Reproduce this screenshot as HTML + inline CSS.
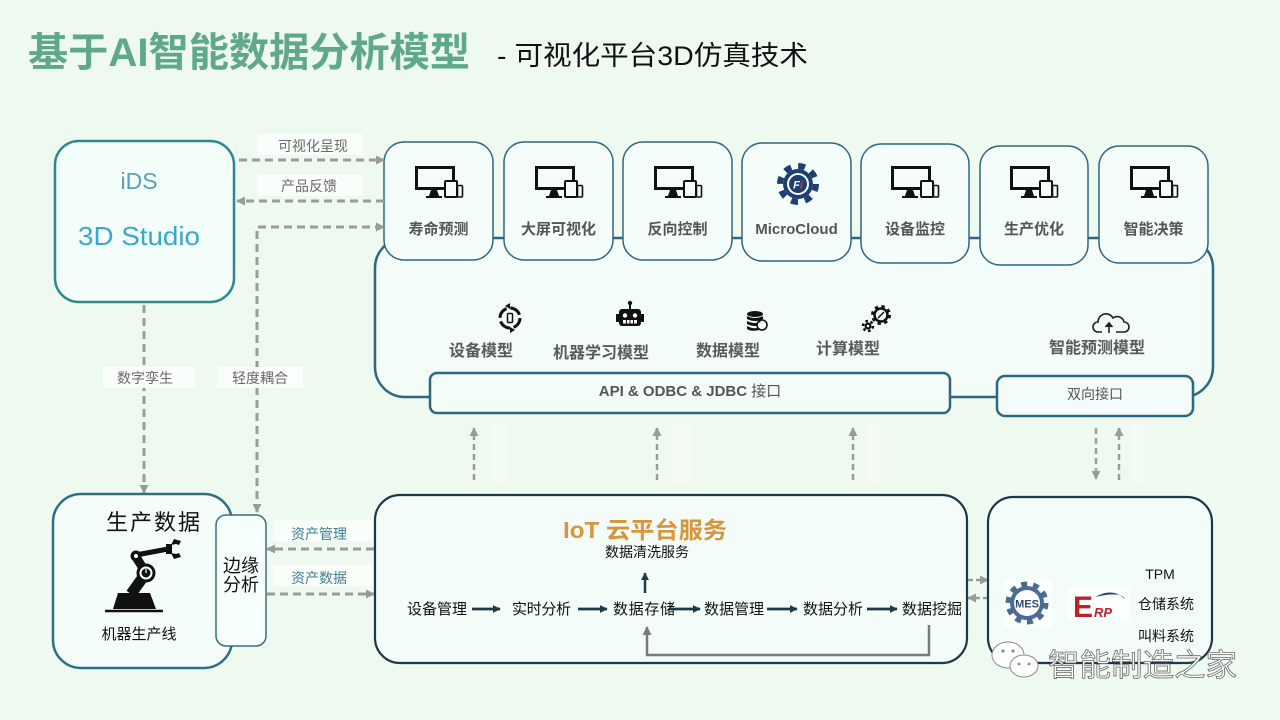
<!DOCTYPE html>
<html><head><meta charset="utf-8"><style>
html,body{margin:0;padding:0;background:#eef9f0;}
svg{display:block;}
text{font-family:"Liberation Sans","Noto Sans CJK SC",sans-serif;}
</style></head><body>
<svg width="1280" height="720" viewBox="0 0 1280 720" xmlns="http://www.w3.org/2000/svg">
<defs>
<marker id="ga" viewBox="0 0 10 10" refX="9" refY="5" markerWidth="9" markerHeight="9" markerUnits="userSpaceOnUse" orient="auto-start-reverse"><path d="M0,0 L10,5 L0,10 z" fill="#9a9a9a"/></marker>
<marker id="na" viewBox="0 0 10 10" refX="9" refY="5" markerWidth="8" markerHeight="8" markerUnits="userSpaceOnUse" orient="auto"><path d="M0,0 L10,5 L0,10 z" fill="#1e3a4a"/></marker>
<marker id="da" viewBox="0 0 10 10" refX="9" refY="5" markerWidth="9" markerHeight="9" markerUnits="userSpaceOnUse" orient="auto"><path d="M0,0 L10,5 L0,10 z" fill="#7a7a7a"/></marker>
<g id="mon">
<rect x="1.5" y="1.5" width="37" height="21" fill="none" stroke="#111" stroke-width="3"/>
<path d="M16,24 L22,24 L24,30 L14,30 z" fill="#111"/>
<line x1="11" y1="31" x2="27" y2="31" stroke="#111" stroke-width="2"/>
<rect x="30" y="15" width="12" height="16" rx="1" fill="#f5fdfa" stroke="#111" stroke-width="2"/>
<rect x="42.5" y="19.5" width="5" height="11.5" rx="1" fill="#f5fdfa" stroke="#111" stroke-width="1.6"/>
</g>
</defs>

<!-- Title -->
<text x="28" y="66" font-size="40" font-weight="bold" fill="#5fa98a" textLength="442" lengthAdjust="spacingAndGlyphs">基于AI智能数据分析模型</text>
<text x="497" y="65" font-size="27" fill="#111" textLength="311" lengthAdjust="spacingAndGlyphs">- 可视化平台3D仿真技术</text>

<!-- iDS box -->
<rect x="55" y="141" width="179" height="161" rx="24" fill="#f3fdf9" stroke="#2e8891" stroke-width="2.5"/>
<text x="139" y="189" font-size="23" fill="#5c9fbb" text-anchor="middle">iDS</text>
<text x="139" y="245" font-size="26" fill="#37a9cf" text-anchor="middle" textLength="122" lengthAdjust="spacingAndGlyphs">3D Studio</text>

<!-- big top box -->
<rect x="375" y="238" width="838" height="159" rx="30" fill="#f3fcf8" stroke="#2f6680" stroke-width="2.5"/>

<!-- cards -->
<g fill="#f5fdfa" stroke="#2f6680" stroke-width="1.5">
<rect x="384" y="142" width="109" height="118" rx="20"/>
<rect x="504" y="142" width="109" height="118" rx="20"/>
<rect x="623" y="142" width="109" height="118" rx="20"/>
<rect x="742" y="143" width="109" height="118" rx="20"/>
<rect x="861" y="144" width="108" height="119" rx="20"/>
<rect x="980" y="146" width="108" height="119" rx="20"/>
<rect x="1099" y="146" width="109" height="117" rx="20"/>
</g>
<use href="#mon" x="415" y="166"/>
<use href="#mon" x="535" y="166"/>
<use href="#mon" x="654" y="166"/>
<use href="#mon" x="891" y="166"/>
<use href="#mon" x="1010" y="166"/>
<use href="#mon" x="1130" y="166"/>
<!-- MicroCloud gear -->
<g>
<circle cx="798" cy="184" r="15" fill="#1d3f73"/>
<circle cx="798" cy="184" r="18" fill="none" stroke="#1d3f73" stroke-width="6" stroke-dasharray="7 7.14"/>
<circle cx="798" cy="184" r="11" fill="#fff"/>
<circle cx="798" cy="184" r="9" fill="#1d3f73"/>
<text x="798" y="188.5" font-size="11" font-weight="bold" font-style="italic" fill="#fff" text-anchor="middle">F<tspan fill="#e03030">i</tspan></text>
</g>
<g font-size="15" font-weight="bold" fill="#555" text-anchor="middle">
<text x="438.5" y="234">寿命预测</text>
<text x="558.5" y="234">大屏可视化</text>
<text x="677.5" y="234">反向控制</text>
<text x="796.5" y="234">MicroCloud</text>
<text x="915" y="234">设备监控</text>
<text x="1034" y="234">生产优化</text>
<text x="1153.5" y="234">智能决策</text>
</g>

<!-- middle icons -->
<g>
<circle cx="510" cy="318" r="10" fill="none" stroke="#111" stroke-width="3" stroke-dasharray="12 3.7"/>
<path d="M505,306 l5,-3 l0,6 z M515,330 l-5,3 l0,-6 z" fill="#111"/>
<rect x="507.5" y="313.5" width="5" height="9" rx="1" fill="none" stroke="#111" stroke-width="1.5"/>
</g>
<g>
<line x1="630" y1="304" x2="630" y2="310" stroke="#111" stroke-width="2"/>
<circle cx="630" cy="303" r="2.2" fill="#111"/>
<rect x="619" y="309" width="22" height="17" rx="3" fill="#111"/>
<rect x="616" y="314" width="4" height="8" fill="#111"/>
<rect x="640" y="314" width="4" height="8" fill="#111"/>
<circle cx="625" cy="315.5" r="2.2" fill="#fff"/>
<circle cx="635" cy="315.5" r="2.2" fill="#fff"/>
<rect x="623" y="320" width="14" height="3.5" fill="#fff"/>
<path d="M626.5,320v3.5M630,320v3.5M633.5,320v3.5" stroke="#111" stroke-width="1"/>
</g>
<g fill="#111">
<ellipse cx="755" cy="314" rx="8" ry="3"/>
<path d="M747,316 q8,4 16,0 v3 q-8,4 -16,0z"/>
<path d="M747,321 q8,4 16,0 v3 q-8,4 -16,0z"/>
<path d="M747,326 q8,4 12,1 v3 q-8,2 -12,-1z"/>
<circle cx="762" cy="325" r="5" fill="#f3fcf8" stroke="#111" stroke-width="1.6"/>
<path d="M758,320 l3,1 l-2,2z"/>
</g>
<g>
<circle cx="881" cy="315" r="6.5" fill="#f3fcf8" stroke="#111" stroke-width="2.5"/>
<circle cx="881" cy="315" r="8.5" fill="none" stroke="#111" stroke-width="3" stroke-dasharray="3.3 3.4"/>
<line x1="878" y1="318" x2="884" y2="312" stroke="#111" stroke-width="1.5"/>
<circle cx="868" cy="326" r="3.5" fill="#111"/>
<circle cx="868" cy="326" r="5" fill="none" stroke="#111" stroke-width="2.5" stroke-dasharray="2.6 2.6"/>
<circle cx="868" cy="326" r="1.3" fill="#f3fcf8"/>
</g>
<g fill="none" stroke="#222" stroke-width="1.6">
<path d="M1102,332 h-4 a5,5 0 0 1 0,-10 a8,8 0 0 1 15,-4 a7,7 0 0 1 11,4 a5,5 0 0 1 0,10 h-8"/>
<path d="M1109,333 v-9"/>
<path d="M1105.5,327 l3.5,-4 l3.5,4" fill="#222"/>
</g>
<g font-size="16" font-weight="bold" fill="#5a5a5a" text-anchor="middle">
<text x="481" y="356">设备模型</text>
<text x="601" y="358">机器学习模型</text>
<text x="728" y="356">数据模型</text>
<text x="848" y="354">计算模型</text>
<text x="1097" y="353">智能预测模型</text>
</g>

<!-- interface boxes -->
<rect x="430" y="373" width="520" height="40" rx="7" fill="#f3fcf8" stroke="#2f6680" stroke-width="2.5"/>
<rect x="997" y="376" width="196" height="40" rx="8" fill="#f3fcf8" stroke="#2f6680" stroke-width="2.5"/>
<text x="690" y="396" font-size="15" font-weight="bold" fill="#555" text-anchor="middle">API &amp; ODBC &amp; JDBC <tspan font-weight="normal">接口</tspan></text>
<text x="1095" y="399" font-size="14" fill="#555" text-anchor="middle">双向接口</text>

<!-- faint strips -->
<g fill="#ffffff" opacity="0.3">
<rect x="490" y="424" width="18" height="58"/>
<rect x="672" y="424" width="18" height="58"/>
<rect x="866" y="424" width="14" height="58"/>
<rect x="1130" y="424" width="14" height="58"/>
</g>

<!-- dashed connectors -->
<g fill="none" stroke="#9b9b9b" stroke-width="3" stroke-dasharray="8 5">
<line x1="239" y1="160" x2="384" y2="160" marker-end="url(#ga)"/>
<line x1="384" y1="201" x2="237" y2="201" marker-end="url(#ga)"/>
<path d="M257,512 V227 H384" marker-start="url(#ga)" marker-end="url(#ga)"/>
<line x1="144" y1="305" x2="144" y2="493" marker-end="url(#ga)"/>
<line x1="374" y1="549" x2="267" y2="549" marker-end="url(#ga)"/>
<line x1="267" y1="594" x2="374" y2="594" marker-end="url(#ga)"/>
<line x1="474" y1="480" x2="474" y2="428" marker-end="url(#ga)" stroke-width="2.5" stroke-dasharray="6 4"/>
<line x1="657" y1="480" x2="657" y2="428" marker-end="url(#ga)" stroke-width="2.5" stroke-dasharray="6 4"/>
<line x1="853" y1="480" x2="853" y2="428" marker-end="url(#ga)" stroke-width="2.5" stroke-dasharray="6 4"/>
<line x1="1096" y1="428" x2="1096" y2="479" marker-end="url(#ga)" stroke-width="2.5" stroke-dasharray="6 4"/>
<line x1="1119" y1="480" x2="1119" y2="428" marker-end="url(#ga)" stroke-width="2.5" stroke-dasharray="6 4"/>
<line x1="968" y1="580" x2="988" y2="580" marker-end="url(#ga)" stroke-width="2.5" stroke-dasharray="5 3"/>
<line x1="988" y1="598" x2="968" y2="598" marker-end="url(#ga)" stroke-width="2.5" stroke-dasharray="5 3"/>
</g>

<!-- connector labels -->
<g fill="#fbfffd" opacity="0.9">
<rect x="257" y="134" width="106" height="21"/>
<rect x="257" y="175" width="106" height="21"/>
<rect x="103" y="367" width="92" height="21"/>
<rect x="217" y="367" width="86" height="21"/>
<rect x="273" y="520" width="100" height="21"/>
<rect x="273" y="565" width="100" height="21"/>
</g>
<g font-size="14" fill="#6a6a6a" text-anchor="middle">
<text x="313" y="151">可视化呈现</text>
<text x="309" y="191">产品反馈</text>
<text x="145" y="383">数字孪生</text>
<text x="260" y="383">轻度耦合</text>
</g>
<g font-size="14" fill="#3f7f98" text-anchor="middle">
<text x="319" y="539">资产管理</text>
<text x="319" y="583">资产数据</text>
</g>

<!-- 生产数据 box -->
<rect x="53" y="494" width="179" height="174" rx="28" fill="#f5fdfa" stroke="#2f7080" stroke-width="2.5"/>
<text x="154" y="530" font-size="22" fill="#111" text-anchor="middle" letter-spacing="2">生产数据</text>
<g>
<line x1="105" y1="611" x2="163" y2="611" stroke="#111" stroke-width="2.5"/>
<path d="M113,609 L118,593 L150,593 L156,609 z" fill="#111"/>
<line x1="136" y1="557" x2="146" y2="573" stroke="#111" stroke-width="9"/>
<line x1="146" y1="573" x2="131" y2="594" stroke="#111" stroke-width="11"/>
<line x1="136" y1="555" x2="168" y2="549" stroke="#111" stroke-width="5"/>
<circle cx="136" cy="556" r="5.5" fill="#111"/>
<circle cx="136" cy="556" r="2" fill="#fff"/>
<circle cx="146" cy="573" r="9.5" fill="#111"/>
<circle cx="146" cy="573" r="6.5" fill="#fff"/>
<circle cx="146" cy="573" r="4.5" fill="#111"/>
<line x1="146" y1="569" x2="146" y2="573" stroke="#fff" stroke-width="1.2"/>
<rect x="166" y="544" width="6" height="10" fill="#111"/>
<path d="M171,545 L174,539 L181,541 L179,545 L176,544 z" fill="#111"/>
<path d="M171,553 L174,559 L181,557 L179,553 L176,554 z" fill="#111"/>
</g>
<text x="139" y="639" font-size="15" fill="#111" text-anchor="middle">机器生产线</text>

<!-- 边缘分析 -->
<rect x="216" y="515" width="50" height="131" rx="10" fill="#f7fffd" stroke="#3a7080" stroke-width="1.5"/>
<text x="241" y="572" font-size="18" fill="#111" text-anchor="middle">边缘</text>
<text x="241" y="591" font-size="18" fill="#111" text-anchor="middle">分析</text>

<!-- IoT box -->
<rect x="375" y="495" width="592" height="168" rx="25" fill="#f3fcf8" stroke="#1d3846" stroke-width="2.2"/>
<text x="563" y="538" font-size="23" font-weight="bold" fill="#d9953a" textLength="164" lengthAdjust="spacingAndGlyphs">IoT 云平台服务</text>
<text x="647" y="557" font-size="14" fill="#111" text-anchor="middle">数据清洗服务</text>
<line x1="645" y1="593" x2="645" y2="573" stroke="#1e3a4a" stroke-width="2.5" marker-end="url(#na)"/>
<g font-size="15" fill="#111">
<text x="407" y="614" textLength="60">设备管理</text>
<text x="512" y="614" textLength="59">实时分析</text>
<text x="613" y="614" textLength="62">数据存储</text>
<text x="704" y="614" textLength="60">数据管理</text>
<text x="803" y="614" textLength="60">数据分析</text>
<text x="902" y="614" textLength="60">数据挖掘</text>
</g>
<g stroke="#1e3a4a" stroke-width="2.8">
<line x1="472" y1="609" x2="500" y2="609" marker-end="url(#na)"/>
<line x1="578" y1="609" x2="607" y2="609" marker-end="url(#na)"/>
<line x1="670" y1="609" x2="700" y2="609" marker-end="url(#na)"/>
<line x1="767" y1="609" x2="797" y2="609" marker-end="url(#na)"/>
<line x1="867" y1="609" x2="897" y2="609" marker-end="url(#na)"/>
</g>
<path d="M929,625 V655 H647 V627" fill="none" stroke="#7a7a7a" stroke-width="2.5" marker-end="url(#da)"/>

<!-- right box -->
<rect x="988" y="497" width="224" height="166" rx="25" fill="#f3fcf8" stroke="#1d3846" stroke-width="2.2"/>
<rect x="1004" y="580" width="48" height="48" fill="#fbfffd"/>
<g>
<circle cx="1027" cy="603" r="17" fill="#4b6a95"/>
<circle cx="1027" cy="603" r="19" fill="none" stroke="#4b6a95" stroke-width="5" stroke-dasharray="6 5.94"/>
<circle cx="1027" cy="603" r="13" fill="#fff"/>
<text x="1027" y="607.5" font-size="11" font-weight="bold" fill="#2a4a7a" text-anchor="middle">MES</text>
</g>
<rect x="1068" y="587" width="62" height="34" fill="#fbfffd"/>
<g>
<path d="M1095,597 q18,-10 30,2 q-4,-8 -30,-2z" fill="#2a3a7a"/>
<text x="1073" y="617" font-size="30" font-weight="bold" fill="#c0202a">E</text>
<text x="1094" y="617" font-size="13" font-weight="bold" font-style="italic" fill="#c0202a">RP</text>
</g>
<g font-size="14" fill="#111" text-anchor="middle">
<text x="1160" y="579">TPM</text>
<text x="1166" y="609">仓储系统</text>
<text x="1166" y="641">叫料系统</text>
</g>

<!-- watermark -->
<g fill="#ffffff" stroke="#8a8a8a" stroke-width="1">
<ellipse cx="1008" cy="655" rx="16" ry="13"/>
<ellipse cx="1024" cy="666" rx="14" ry="11"/>
</g>
<g fill="#8a8a8a"><circle cx="1003" cy="651" r="1.6"/><circle cx="1013" cy="651" r="1.6"/><circle cx="1019" cy="664" r="1.4"/><circle cx="1029" cy="664" r="1.4"/></g>
<text x="1048" y="676" font-size="31" fill="#ffffff" stroke="#6a6a6a" stroke-width="0.8" textLength="189" lengthAdjust="spacingAndGlyphs">智能制造之家</text>
</svg>
</body></html>
